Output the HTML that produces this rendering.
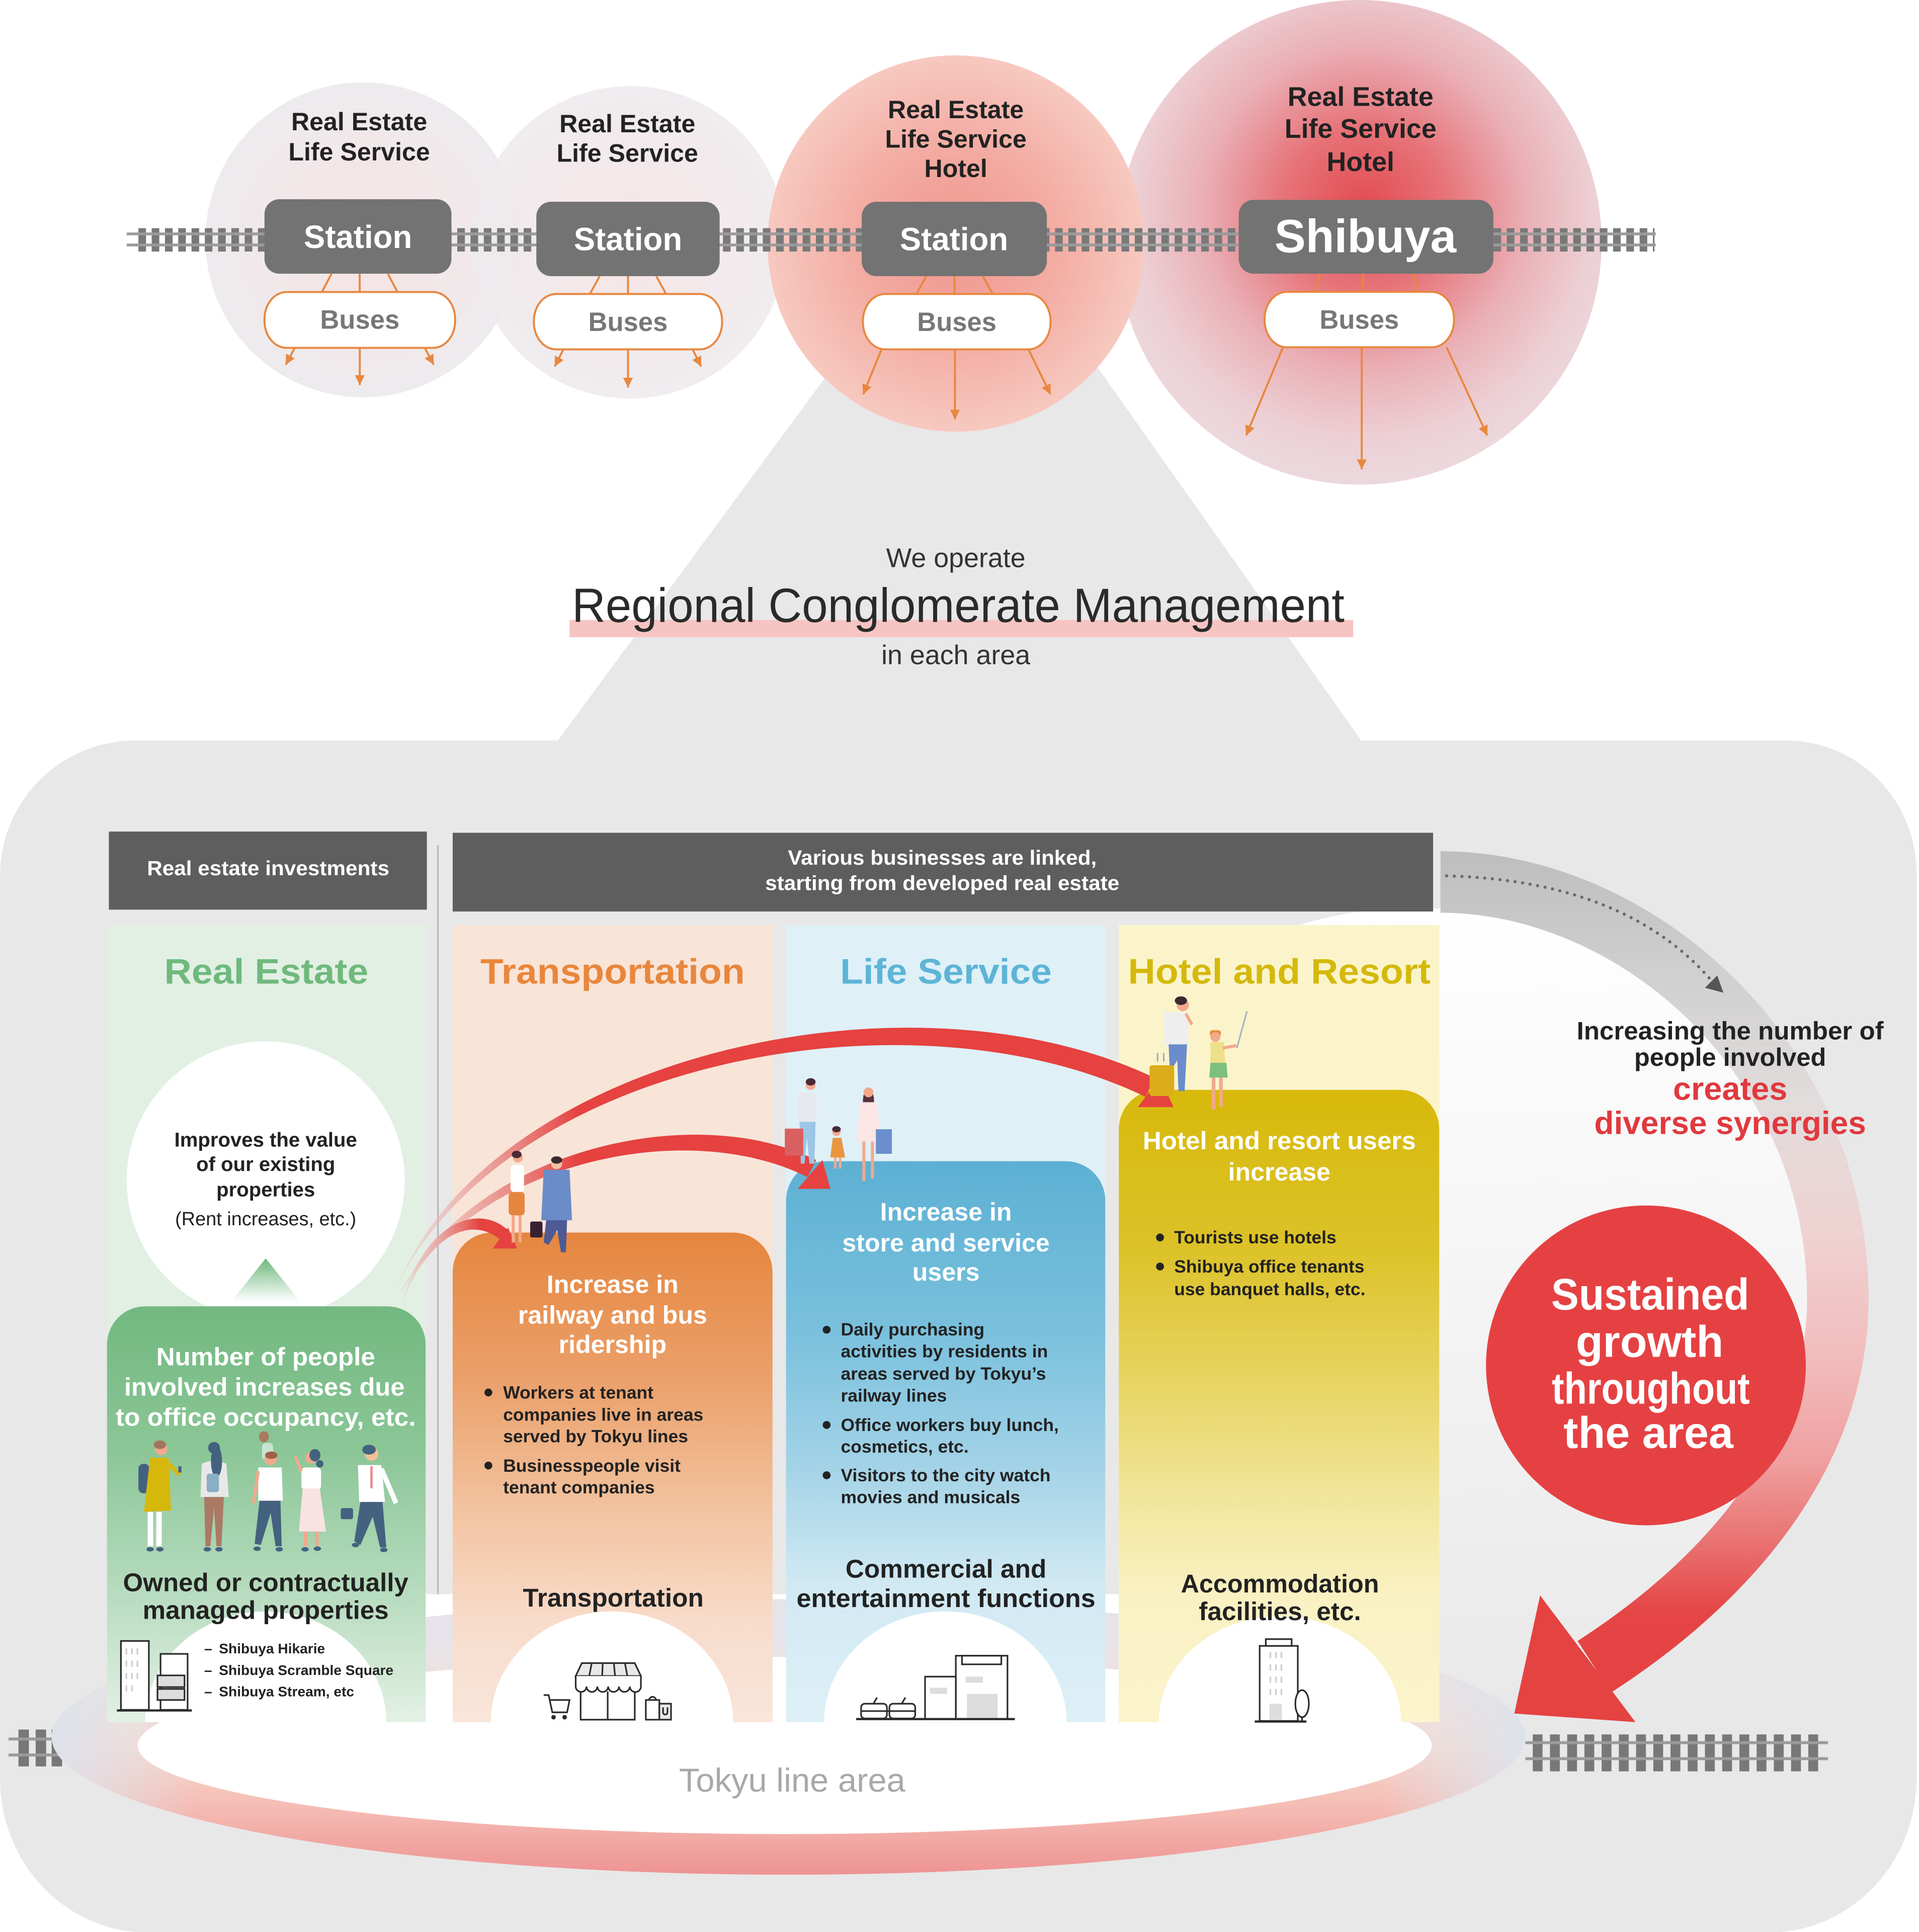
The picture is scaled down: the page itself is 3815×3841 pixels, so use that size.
<!DOCTYPE html>
<html><head><meta charset="utf-8"><style>html,body{margin:0;padding:0;background:#fff;}svg{display:block}</style></head>
<body>
<svg xmlns="http://www.w3.org/2000/svg" width="3815" height="3841" viewBox="0 0 1560 1570.6" preserveAspectRatio="none" font-family="'Liberation Sans', sans-serif">
<defs>
<radialGradient id="gC1" cx="0.5" cy="0.5" r="0.5"><stop offset="0" stop-color="#f6e3e3"/><stop offset="1" stop-color="#eeebee"/></radialGradient>
<radialGradient id="gC3" cx="0.5" cy="0.5" r="0.5"><stop offset="0" stop-color="#f0948d"/><stop offset="0.55" stop-color="#f3ada4"/><stop offset="1" stop-color="#f7c9c0"/></radialGradient>
<radialGradient id="gC4" cx="0.51" cy="0.43" r="0.56"><stop offset="0" stop-color="#e24a51"/><stop offset="0.3" stop-color="#e67378"/><stop offset="0.6" stop-color="#eab0b6"/><stop offset="0.85" stop-color="#ecd0d5"/><stop offset="1" stop-color="#ecd8dc"/></radialGradient>
<linearGradient id="gGreen" gradientUnits="userSpaceOnUse" x1="0" y1="1061" x2="0" y2="1400"><stop offset="0" stop-color="#72b87f"/><stop offset="0.35" stop-color="#8bc697"/><stop offset="0.7" stop-color="#b8dcbf"/><stop offset="1" stop-color="#e3f1e5"/></linearGradient>
<linearGradient id="gOrange" gradientUnits="userSpaceOnUse" x1="0" y1="1002" x2="0" y2="1400"><stop offset="0" stop-color="#e5863f"/><stop offset="0.3" stop-color="#eba06a"/><stop offset="0.6" stop-color="#f3c7a6"/><stop offset="0.8" stop-color="#f8dccb"/><stop offset="1" stop-color="#f9e6db"/></linearGradient>
<linearGradient id="gBlue" gradientUnits="userSpaceOnUse" x1="0" y1="944" x2="0" y2="1400"><stop offset="0" stop-color="#5cb0d3"/><stop offset="0.3" stop-color="#79c0dd"/><stop offset="0.55" stop-color="#a4d3e7"/><stop offset="0.75" stop-color="#d0e9f3"/><stop offset="1" stop-color="#dff0f7"/></linearGradient>
<linearGradient id="gYellow" gradientUnits="userSpaceOnUse" x1="0" y1="886" x2="0" y2="1400"><stop offset="0" stop-color="#d8b90b"/><stop offset="0.25" stop-color="#dcc228"/><stop offset="0.45" stop-color="#e6d35e"/><stop offset="0.65" stop-color="#f2e69d"/><stop offset="0.8" stop-color="#faf1c3"/><stop offset="1" stop-color="#fbf4cc"/></linearGradient>
<linearGradient id="gTri" gradientUnits="userSpaceOnUse" x1="0" y1="1023" x2="0" y2="1058"><stop offset="0" stop-color="#6db87b"/><stop offset="1" stop-color="#ffffff"/></linearGradient>
<linearGradient id="gRing" gradientUnits="userSpaceOnUse" x1="0" y1="1330" x2="0" y2="1524"><stop offset="0" stop-color="#e6e4ea"/><stop offset="0.45" stop-color="#f8dbd0"/><stop offset="0.75" stop-color="#f4b8b0"/><stop offset="1" stop-color="#ee9393"/></linearGradient>
<linearGradient id="gRingH" gradientUnits="userSpaceOnUse" x1="40" y1="0" x2="1242" y2="0"><stop offset="0" stop-color="#dde3ec" stop-opacity="1"/><stop offset="0.1" stop-color="#dde3ec" stop-opacity="0"/><stop offset="0.9" stop-color="#dde3ec" stop-opacity="0"/><stop offset="1" stop-color="#dde3ec" stop-opacity="1"/></linearGradient>
<linearGradient id="gDisc" gradientUnits="userSpaceOnUse" x1="0" y1="738" x2="0" y2="1382"><stop offset="0" stop-color="#ffffff"/><stop offset="0.5" stop-color="#f4f4f4"/><stop offset="1" stop-color="#e9e9e9"/></linearGradient>
<linearGradient id="gBand" gradientUnits="userSpaceOnUse" x1="0" y1="690" x2="0" y2="1380"><stop offset="0" stop-color="#bdbdbd"/><stop offset="0.15" stop-color="#d0d0d0"/><stop offset="0.3" stop-color="#e2dcdc"/><stop offset="0.45" stop-color="#efd2d2"/><stop offset="0.6" stop-color="#f2bcbc"/><stop offset="0.72" stop-color="#f0a0a0"/><stop offset="0.82" stop-color="#e97070"/><stop offset="0.9" stop-color="#e54545"/><stop offset="1" stop-color="#e54242"/></linearGradient>
<linearGradient id="gArc" gradientUnits="userSpaceOnUse" x1="318" y1="0" x2="470" y2="0"><stop offset="0" stop-color="#e8cfc8" stop-opacity="0.3"/><stop offset="0.45" stop-color="#e9a29c" stop-opacity="0.85"/><stop offset="1" stop-color="#e54240"/></linearGradient>
<linearGradient id="gArcA" gradientUnits="userSpaceOnUse" x1="324" y1="0" x2="390" y2="0"><stop offset="0" stop-color="#e8cfc8" stop-opacity="0.3"/><stop offset="0.5" stop-color="#e9a29c" stop-opacity="0.85"/><stop offset="1" stop-color="#e54240"/></linearGradient>
<pattern id="ties" x="112.5" y="0" width="10.8" height="1600" patternUnits="userSpaceOnUse"><rect x="0" y="0" width="6.2" height="1600" fill="#787878"/></pattern>
<pattern id="ties2" x="1246" y="0" width="14" height="1600" patternUnits="userSpaceOnUse"><rect x="0" y="0" width="8" height="1600" fill="#787878"/></pattern>
<marker id="ah" viewBox="0 0 10 10" refX="10" refY="5" markerWidth="8" markerHeight="9" markerUnits="userSpaceOnUse" orient="auto"><path d="M0 0 L10 5 L0 10 Z" fill="#e8873f"/></marker>
</defs>

<rect x="0" y="0" width="1560" height="1571" fill="#ffffff"/>
<!-- trapezoid -->
<polygon points="698,270 872,270 1108,604 452,604" fill="#e8e8e8"/>
<!-- main gray shape -->
<path d="M110 602 H1452 A106 108 0 0 1 1558 710 V1446 A120 125 0 0 1 1438 1571 H120 A120 125 0 0 1 0 1446 V712 A110 110 0 0 1 110 602 Z" fill="#e8e8e8"/>
<!-- disc -->
<circle cx="1150" cy="1060" r="322" fill="url(#gDisc)"/>
<rect x="80" y="752" width="1090" height="544" fill="#e8e8e8"/>
<!-- curved band -->
<path d="M1171 717 C1330 717 1494 860 1494 1056 C1494 1170 1420 1275 1296 1355" fill="none" stroke="url(#gBand)" stroke-width="50"/>
<!-- dotted arrow -->
<path d="M1176 712 Q1322 716 1392 798" fill="none" stroke="#6a6a6a" stroke-width="2.6" stroke-linecap="round" stroke-dasharray="0 6.2"/>
<polygon points="1401,807 1386,803 1396,793" fill="#555"/>

<!-- top circles -->
<circle cx="295" cy="195" r="128" fill="url(#gC1)"/>
<circle cx="512" cy="197" r="127" fill="url(#gC1)" fill-opacity="0.92"/>
<circle cx="1105" cy="197" r="197" fill="url(#gC4)"/>
<circle cx="777" cy="198" r="153" fill="url(#gC3)"/>

<!-- track -->
<rect x="112" y="185.5" width="1233" height="19" fill="url(#ties)"/>
<rect x="103" y="189" width="1243" height="2.3" fill="#9b9b9b"/>
<rect x="103" y="198" width="1243" height="2.3" fill="#9b9b9b"/>

<!-- station boxes -->
<rect x="215" y="162" width="152" height="60.5" rx="12" fill="#737373"/>
<rect x="436" y="164" width="149" height="60.5" rx="12" fill="#737373"/>
<rect x="700.5" y="164" width="150.5" height="60.5" rx="12" fill="#737373"/>
<rect x="1007" y="162.5" width="207" height="60" rx="12" fill="#737373"/>
<g font-weight="bold" fill="#fff" text-anchor="middle">
<text x="291" y="201.5" font-size="26">Station</text>
<text x="510.5" y="203.5" font-size="26">Station</text>
<text x="775.5" y="203.5" font-size="26">Station</text>
<text x="1110" y="205" font-size="38">Shibuya</text>
</g>

<!-- station-bus lines -->
<g stroke="#e8873f" stroke-width="1.6" fill="none">
<path d="M269.5 222.5 L261.7 237.4 M292.4 222.5 V237.4 M315.3 222.5 L323.1 237.4"/>
<path d="M487.5 224.5 L479.5 239 M510.5 224.5 V239 M533.5 224.5 L541.5 239"/>
<path d="M753 224.5 L745 239 M776 224.5 V239 M799 224.5 L807 239"/>
<path d="M1073 222.4 L1069 237.3 M1108 222.4 V237.3 M1149 222.4 L1153 237.3"/>
</g>
<!-- bus pills -->
<g fill="#fff" stroke="#e8873f" stroke-width="1.6">
<rect x="215" y="237.4" width="155" height="45.4" rx="18" ry="22"/>
<rect x="434" y="239" width="153" height="45" rx="18" ry="22"/>
<rect x="701.5" y="239" width="152.5" height="45" rx="18" ry="22"/>
<rect x="1028" y="237.3" width="154" height="45" rx="18" ry="22"/>
</g>
<g font-weight="bold" fill="#777" font-size="21.5" text-anchor="middle">
<text x="292.5" y="267.2">Buses</text>
<text x="510.5" y="269">Buses</text>
<text x="777.8" y="269">Buses</text>
<text x="1105" y="267.2">Buses</text>
</g>
<!-- bus arrows -->
<g stroke="#e8873f" stroke-width="1.6" fill="none" marker-end="url(#ah)">
<path d="M239.6 282.8 L232.3 296.5"/><path d="M292.5 282.8 V313"/><path d="M345.3 282.8 L352.6 296.5"/>
<path d="M458 284 L451 298"/><path d="M510.5 284 V315"/><path d="M563 284 L570 298"/>
<path d="M716.6 284 L701.7 320.6"/><path d="M776.3 284 V341"/><path d="M836 284 L854 320.6"/>
<path d="M1043 282.3 L1013 354"/><path d="M1107 282.3 V381.5"/><path d="M1176 282.3 L1209 354"/>
</g>

<!-- top labels -->
<g font-weight="bold" fill="#222" text-anchor="middle" font-size="20.5">
<text x="292" y="106">Real Estate</text><text x="292" y="130.5">Life Service</text>
<text x="510" y="107.5">Real Estate</text><text x="510" y="131.5">Life Service</text>
<text x="777" y="96">Real Estate</text><text x="777" y="120">Life Service</text><text x="777" y="144">Hotel</text>
<text x="1106" y="86" font-size="22">Real Estate</text><text x="1106" y="112" font-size="22">Life Service</text><text x="1106" y="139" font-size="22">Hotel</text>
</g>

<!-- middle text -->
<text x="777" y="461" font-size="22" fill="#333" text-anchor="middle">We operate</text>
<rect x="463" y="504" width="637" height="14" fill="#f6c4c2"/>
<text x="779" y="505.7" font-size="39" fill="#2a2a2a" text-anchor="middle" textLength="628" lengthAdjust="spacingAndGlyphs">Regional Conglomerate Management</text>
<text x="777" y="540" font-size="22" fill="#333" text-anchor="middle">in each area</text>

<!-- headers -->
<rect x="88.5" y="676" width="258.5" height="63.5" fill="#5e5e5e"/>
<rect x="368" y="677" width="797" height="64" fill="#5e5e5e"/>
<g font-weight="bold" fill="#fff" font-size="16.5" text-anchor="middle">
<text x="218" y="711.5" textLength="197" lengthAdjust="spacingAndGlyphs">Real estate investments</text>
<text x="766" y="703" textLength="251" lengthAdjust="spacingAndGlyphs">Various businesses are linked,</text>
<text x="766" y="723.5" textLength="288" lengthAdjust="spacingAndGlyphs">starting from developed real estate</text>
</g>
<line x1="356" y1="687" x2="356" y2="1296" stroke="#b8b8b8" stroke-width="1.3"/>

<!-- bottom white area -->
<rect x="87" y="1296" width="1083" height="104" fill="#fff"/>
<!-- bottom railways -->
<rect x="15" y="1406" width="8.5" height="30" fill="#787878"/>
<rect x="29" y="1406" width="8.5" height="30" fill="#787878"/>
<rect x="42" y="1406" width="8.5" height="30" fill="#787878"/>
<rect x="7" y="1412.5" width="45" height="2.4" fill="#9b9b9b"/>
<rect x="7" y="1425.5" width="45" height="2.4" fill="#9b9b9b"/>
<rect x="1246" y="1410" width="234" height="30" fill="url(#ties2)"/>
<rect x="1240" y="1415.5" width="246" height="2.4" fill="#9b9b9b"/>
<rect x="1240" y="1428.5" width="246" height="2.4" fill="#9b9b9b"/>
<!-- ring -->
<ellipse cx="641" cy="1412" rx="599" ry="112" fill="url(#gRing)"/>
<ellipse cx="641" cy="1412" rx="599" ry="112" fill="url(#gRingH)"/>
<ellipse cx="638" cy="1419" rx="526" ry="72" fill="#fff"/>

<!-- columns -->
<rect x="87" y="752" width="259" height="648" fill="#e2f0e4"/>
<rect x="368" y="752" width="260" height="648" fill="#f9e4d8"/>
<rect x="639" y="752" width="259.5" height="648" fill="#dff0f7"/>
<rect x="909.5" y="752" width="260.5" height="648" fill="#fbf4cb"/>

<!-- RE oval -->
<circle cx="216" cy="959.5" r="113" fill="#fff"/>
<polygon points="216,1023 188,1058 244,1058" fill="url(#gTri)"/>

<!-- colored boxes -->
<path d="M87 1400 V1093 A31 31 0 0 1 118 1062 H315 A31 31 0 0 1 346 1093 V1400 Z" fill="url(#gGreen)"/>
<path d="M368 1400 V1034 A32 32 0 0 1 400 1002 H596 A32 32 0 0 1 628 1034 V1400 Z" fill="url(#gOrange)"/>
<path d="M639 1400 V976 A32 32 0 0 1 671 944 H866.5 A32 32 0 0 1 898.5 976 V1400 Z" fill="url(#gBlue)"/>
<path d="M909.5 1400 V918 A32 32 0 0 1 941.5 886 H1138 A32 32 0 0 1 1170 918 V1400 Z" fill="url(#gYellow)"/>

<!-- arches -->
<g fill="#fff">
<path d="M118 1400 A98 90 0 0 1 314 1400 Z"/>
<path d="M399 1400 A98.5 90 0 0 1 596 1400 Z"/>
<path d="M670 1400 A98.5 90 0 0 1 867 1400 Z"/>
<path d="M942 1400 A98.5 86 0 0 1 1139 1400 Z"/>
</g>

<!-- icons -->
<g stroke="#2a2a2a" stroke-width="1.3" fill="#fff">
<rect x="98.3" y="1334" width="22.7" height="56"/>
<rect x="130.5" y="1344.5" width="22" height="45.5"/>
<rect x="128" y="1362" width="22" height="9.5" fill="#ddd"/>
<rect x="128" y="1373" width="22" height="9" fill="#ddd"/>
<line x1="95" y1="1390.5" x2="156" y2="1390.5" stroke-width="1.8"/>
<path d="M473 1352 H516 L521 1362.5 H468 Z" fill="#e8e8e8"/>
<path d="M481 1352 L479 1362.5 M490 1352 L489.5 1362.5 M499 1352 L500 1362.5 M508 1352 L510 1362.5" fill="none"/>
<path d="M468 1362.5 V1371 A4.4 4.4 0 0 0 476.8 1371 A4.4 4.4 0 0 0 485.6 1371 A4.4 4.4 0 0 0 494.4 1371 A4.4 4.4 0 0 0 503.2 1371 A4.4 4.4 0 0 0 512 1371 A4.5 4.5 0 0 0 521 1371 V1362.5"/>
<path d="M472 1375 V1398 H516 V1375 M494 1375 V1398" fill="none"/>
<path d="M442 1378 H446 L449 1392 H461 L463 1382 H447" fill="none"/>
<circle cx="450" cy="1396" r="1.2" fill="#2a2a2a"/><circle cx="459" cy="1396" r="1.2" fill="#2a2a2a"/>
<rect x="525" y="1382" width="11" height="16"/>
<path d="M527.5 1382 A3.2 4 0 0 1 533.5 1382" fill="none"/>
<rect x="536" y="1385" width="9.5" height="13" fill="#e8e8e8"/>
<path d="M539 1388 V1392 A1.8 1.8 0 0 0 542.6 1392 V1388" fill="none"/>
<rect x="777" y="1346" width="42" height="51.5"/>
<rect x="782" y="1346" width="32" height="7"/>
<rect x="785" y="1363" width="14" height="5" fill="#ddd" stroke="none"/>
<rect x="786" y="1377" width="25" height="20" fill="#ddd" stroke="none"/>
<rect x="752" y="1363" width="25" height="34.5"/>
<rect x="756" y="1372" width="14" height="5" fill="#ddd" stroke="none"/>
<rect x="700" y="1385" width="21" height="12" rx="3"/>
<rect x="723" y="1385" width="21" height="12" rx="3"/>
<path d="M700 1391 H744 M710 1385 L713 1380 M733 1385 L736 1380" fill="none"/>
<line x1="696" y1="1397.5" x2="825" y2="1397.5" stroke-width="1.8"/>
<rect x="1024" y="1338" width="31" height="61"/>
<rect x="1029" y="1332.5" width="21" height="5.5"/>
<rect x="1032" y="1385" width="10" height="13" fill="#ddd" stroke="none"/>
<ellipse cx="1058.5" cy="1385" rx="5.5" ry="11"/>
<line x1="1058.5" y1="1396" x2="1058.5" y2="1400"/>
<line x1="1020" y1="1399.5" x2="1062" y2="1399.5" stroke-width="1.8"/>
</g>
<g fill="#cfcfcf">
<rect x="102" y="1340" width="1.4" height="5"/><rect x="106.5" y="1340" width="1.4" height="5"/><rect x="111" y="1340" width="1.4" height="5"/>
<rect x="102" y="1350" width="1.4" height="5"/><rect x="106.5" y="1350" width="1.4" height="5"/><rect x="111" y="1350" width="1.4" height="5"/>
<rect x="102" y="1360" width="1.4" height="5"/><rect x="106.5" y="1360" width="1.4" height="5"/><rect x="111" y="1360" width="1.4" height="5"/>
<rect x="102" y="1370" width="1.4" height="5"/><rect x="106.5" y="1370" width="1.4" height="5"/>
<rect x="1032" y="1343" width="1.4" height="5"/><rect x="1036.5" y="1343" width="1.4" height="5"/><rect x="1041" y="1343" width="1.4" height="5"/>
<rect x="1032" y="1353" width="1.4" height="5"/><rect x="1036.5" y="1353" width="1.4" height="5"/><rect x="1041" y="1353" width="1.4" height="5"/>
<rect x="1032" y="1363" width="1.4" height="5"/><rect x="1036.5" y="1363" width="1.4" height="5"/><rect x="1041" y="1363" width="1.4" height="5"/>
<rect x="1032" y="1373" width="1.4" height="5"/><rect x="1036.5" y="1373" width="1.4" height="5"/><rect x="1041" y="1373" width="1.4" height="5"/>
</g>

<!-- red arcs -->
<path d="M320 1052 C394.5 857.7 740 781 938.7 876.3 L931.3 891.7 C740 799 405.5 862.3 320 1052 Z" fill="url(#gArc)"/>
<polygon points="943,876 954,900 925,900" fill="#e54240"/>
<path d="M322 1058 C375 938 560 892 663.5 943 L656.5 957 C560 908 385 942 322 1058 Z" fill="url(#gArc)"/>
<polygon points="668.6,943 675,966.5 648.5,966.5" fill="#e54240"/>
<path d="M326 1062 C342 997 387 976 413.3 1000.3 L406.7 1007.8 C383 988 348 1003 326 1062 Z" fill="url(#gArcA)"/>
<polygon points="413,998 420.4,1015 400.4,1015" fill="#e54240"/>

<!-- people: RE green box -->
<g>
<rect x="112.5" y="1190" width="9" height="24" rx="4" fill="#44627f"/>
<path d="M122 1185 L137 1185 L139 1228 L117 1229 Z" fill="#d6b80c"/>
<path d="M136 1189 L145 1198" stroke="#d6b80c" stroke-width="3.5" stroke-linecap="round"/>
<rect x="145" y="1192" width="2.5" height="5" fill="#44627f"/>
<circle cx="131" cy="1178" r="5" fill="#f2a98c"/>
<ellipse cx="130" cy="1174.5" rx="5" ry="3.5" fill="#a3755c"/>
<rect x="120" y="1229" width="4.5" height="28" fill="#fff"/><rect x="127" y="1229" width="4.5" height="28" fill="#fff"/>
<ellipse cx="122" cy="1259.5" rx="3" ry="1.8" fill="#44627f"/><ellipse cx="130" cy="1259.5" rx="3" ry="1.8" fill="#44627f"/>

<path d="M164 1190 Q174 1185 184 1190 L186 1217 L163 1217 Z" fill="#e8e8e8"/>
<ellipse cx="176" cy="1188" rx="4.5" ry="13" fill="#44627f"/>
<circle cx="174" cy="1177" r="4.8" fill="#44627f"/>
<rect x="168" y="1198" width="10" height="15" rx="2" fill="#8aaec4"/>
<path d="M166 1217 L182 1217 L180 1257 L176 1257 L174 1226 L171 1257 L167 1257 Z" fill="#ab7965"/>
<ellipse cx="168.5" cy="1259.5" rx="3" ry="1.8" fill="#44627f"/><ellipse cx="178" cy="1259.5" rx="3" ry="1.8" fill="#44627f"/>

<ellipse cx="214.5" cy="1168" rx="4" ry="4.5" fill="#a77a5e"/>
<rect x="213" y="1173" width="9" height="14" rx="3" fill="#c8e3cf"/>
<circle cx="220" cy="1186" r="5" fill="#f2a98c"/>
<ellipse cx="220.5" cy="1183" rx="5" ry="3" fill="#a0604a"/>
<path d="M210 1193 L229 1193 L230 1220 L210 1220 Z" fill="#fff"/>
<path d="M210 1196 L206 1222" stroke="#f2a98c" stroke-width="2.5"/>
<path d="M211 1220 L228 1220 L229 1257 L224 1257 L220 1230 L212 1256 L207 1255 Z" fill="#44627f"/>
<ellipse cx="209" cy="1259" rx="3" ry="1.8" fill="#44627f"/><ellipse cx="227" cy="1259.5" rx="3" ry="1.8" fill="#44627f"/>

<circle cx="253" cy="1185" r="4.8" fill="#f2a98c"/>
<ellipse cx="256" cy="1183" rx="4.5" ry="5" fill="#44627f"/><circle cx="260" cy="1190" r="3" fill="#44627f"/>
<rect x="245" y="1193" width="16" height="18" rx="3" fill="#fff"/>
<path d="M245 1196 L240 1184" stroke="#f2a98c" stroke-width="2.5"/>
<path d="M246 1210 L260 1210 L265 1245 L243 1245 Z" fill="#f9e2e2"/>
<rect x="247" y="1245" width="3" height="12" fill="#f2a98c"/><rect x="256" y="1245" width="3" height="12" fill="#f2a98c"/>
<ellipse cx="248" cy="1259.5" rx="3" ry="1.8" fill="#44627f"/><ellipse cx="258" cy="1259" rx="3" ry="1.8" fill="#44627f"/>

<circle cx="302" cy="1182" r="5.5" fill="#f4c196"/>
<ellipse cx="300" cy="1178.5" rx="5.5" ry="4" fill="#44627f"/>
<path d="M291 1191 L310 1191 L313 1221 L292 1221 Z" fill="#fff"/>
<path d="M301 1192 H303 V1210 H301 Z" fill="#e89090"/>
<path d="M310 1194 L322 1222" stroke="#fff" stroke-width="4"/>
<path d="M293 1221 L311 1221 L314 1258 L309 1258 L303 1233 L293 1256 L288 1253 Z" fill="#44627f"/>
<rect x="277" y="1226" width="10" height="9" rx="1.5" fill="#44627f"/>
<ellipse cx="289" cy="1256" rx="3" ry="1.8" fill="#44627f"/><ellipse cx="312" cy="1260" rx="3" ry="1.8" fill="#44627f"/>
</g>

<!-- people: transportation -->
<g>
<circle cx="421" cy="941" r="4" fill="#f2a98c"/><ellipse cx="420" cy="938.5" rx="4" ry="3" fill="#4a2a38"/>
<rect x="415" y="947" width="11" height="22" rx="3" fill="#fff"/>
<rect x="413.5" y="969" width="13" height="19" rx="3" fill="#e5863f"/>
<rect x="416" y="988" width="2.5" height="22" fill="#f2a98c"/><rect x="421.5" y="988" width="2.5" height="22" fill="#f2a98c"/>
<circle cx="452.5" cy="946" r="4.5" fill="#f2c3a0"/><ellipse cx="452.5" cy="943" rx="4.5" ry="3" fill="#3a2a30"/>
<path d="M442 951 L463 951 L465 992 L440 992 Z" fill="#6a8cc8"/>
<path d="M444 992 L461 992 L460 1018 L456 1018 L453 1000 L446 1012 L442 1010 Z" fill="#4d5a94"/>
<rect x="431" y="993" width="10" height="13" rx="1.5" fill="#3a2030"/>
</g>
<!-- people: life service -->
<g>
<circle cx="659" cy="882" r="4" fill="#f2a98c"/><ellipse cx="659" cy="879.5" rx="4" ry="3" fill="#4a2a38"/>
<rect x="649" y="888" width="15" height="24" rx="3" fill="#e6e8f0"/>
<path d="M650 912 L663 912 L662 946 L658 946 L656 925 L654 946 L651 946 Z" fill="#9cc6e6"/>
<rect x="638" y="917.5" width="15" height="22" fill="#d96060"/>
<circle cx="680" cy="920" r="3.5" fill="#f2a98c"/><ellipse cx="680" cy="918" rx="3.5" ry="2.5" fill="#4a2a38"/>
<path d="M677 925 L684 925 L687 941 L675 941 Z" fill="#e8963e"/>
<rect x="678" y="941" width="2" height="9" fill="#f2a98c"/><rect x="682" y="941" width="2" height="9" fill="#f2a98c"/>
<ellipse cx="706" cy="895" rx="4.5" ry="10" fill="#5a3040"/>
<circle cx="706" cy="888" r="4" fill="#f2a98c"/>
<path d="M699 896 L713 896 L716 928 L697 928 Z" fill="#fbe5e5"/>
<rect x="701" y="928" width="2.5" height="32" fill="#f2a98c"/><rect x="708" y="928" width="2.5" height="30" fill="#f2a98c"/>
<rect x="712" y="918" width="13" height="20" fill="#6b8fcc"/>
</g>
<!-- people: hotel -->
<g>
<circle cx="961.5" cy="817" r="5" fill="#f2a98c"/><ellipse cx="960" cy="813.5" rx="5" ry="3.5" fill="#3a2a30"/>
<path d="M946 823 L966 823 L966 850 L947 850 Z" fill="#eeeeee"/>
<path d="M964 824 L969 833" stroke="#f2a98c" stroke-width="2.5"/>
<path d="M950 849 L965 849 L963 887 L958 887 L957 862 L951 872 Z" fill="#6b8ccc"/>
<path d="M941 863 V856 M946 863 V856" stroke="#a0a8c0" stroke-width="1.2"/>
<rect x="934.5" y="866" width="20" height="25" rx="2" fill="#dcad1a"/>
<rect x="983.5" y="837.5" width="9" height="5" rx="2" fill="#e5913e"/>
<circle cx="988" cy="843" r="4" fill="#f2a98c"/>
<path d="M984 847 L995 847 L996 866 L984 866 Z" fill="#eee08a"/>
<path d="M984 864 L997 864 L998 876 L983 876 Z" fill="#7dbf7f"/>
<rect x="985" y="876" width="3" height="26" fill="#f2a98c"/><rect x="991" y="876" width="3" height="24" fill="#f2a98c"/>
<path d="M994 852 L1005 850" stroke="#f2a98c" stroke-width="2.5"/>
<path d="M1005.5 852 L1013.7 822" stroke="#a8b4c0" stroke-width="1.3"/>
</g>

<!-- column titles -->
<g font-weight="bold" font-size="29" text-anchor="middle">
<text x="216.5" y="799.7" fill="#6fb97d" textLength="166" lengthAdjust="spacingAndGlyphs">Real Estate</text>
<text x="498" y="799.7" fill="#e8873c" textLength="215" lengthAdjust="spacingAndGlyphs">Transportation</text>
<text x="769" y="799.7" fill="#5db4d6" textLength="172" lengthAdjust="spacingAndGlyphs">Life Service</text>
<text x="1040" y="799.7" fill="#d4b90c" textLength="246" lengthAdjust="spacingAndGlyphs">Hotel and Resort</text>
</g>

<!-- RE oval text -->
<g fill="#222" text-anchor="middle">
<text x="216" y="932" font-size="16.4" font-weight="bold">Improves the value</text>
<text x="216" y="952" font-size="16.4" font-weight="bold">of our existing</text>
<text x="216" y="972.5" font-size="16.4" font-weight="bold">properties</text>
<text x="216" y="996" font-size="15.5">(Rent increases, etc.)</text>
</g>

<!-- box texts white -->
<g fill="#fff" font-weight="bold" font-size="20.5" text-anchor="middle">
<text x="216" y="1110" textLength="178" lengthAdjust="spacingAndGlyphs">Number of people</text>
<text x="215" y="1134.6" textLength="228" lengthAdjust="spacingAndGlyphs">involved increases due</text>
<text x="216" y="1159" textLength="244" lengthAdjust="spacingAndGlyphs">to office occupancy, etc.</text>
<text x="498" y="1051">Increase in</text>
<text x="498" y="1076">railway and bus</text>
<text x="498" y="1100">ridership</text>
<text x="769" y="992.3">Increase in</text>
<text x="769" y="1017.4">store and service</text>
<text x="769" y="1041">users</text>
<text x="1040" y="934.3" textLength="222" lengthAdjust="spacingAndGlyphs">Hotel and resort users</text>
<text x="1040" y="959.8">increase</text>
</g>

<!-- bullets -->
<g fill="#222" font-weight="bold" font-size="14.5">
<circle cx="397" cy="1132" r="3.2"/><circle cx="397" cy="1191.4" r="3.2"/>
<text x="409" y="1137">Workers at tenant</text>
<text x="409" y="1155">companies live in areas</text>
<text x="409" y="1172.6">served by Tokyu lines</text>
<text x="409" y="1196.4">Businesspeople visit</text>
<text x="409" y="1214">tenant companies</text>
<circle cx="672" cy="1081" r="3.2"/><circle cx="672" cy="1158.4" r="3.2"/><circle cx="672" cy="1199.3" r="3.2"/>
<text x="683.5" y="1085.7">Daily purchasing</text>
<text x="683.5" y="1103.4">activities by residents in</text>
<text x="683.5" y="1121.7">areas served by Tokyu’s</text>
<text x="683.5" y="1139.5">railway lines</text>
<text x="683.5" y="1163.4">Office workers buy lunch,</text>
<text x="683.5" y="1181">cosmetics, etc.</text>
<text x="683.5" y="1204.3">Visitors to the city watch</text>
<text x="683.5" y="1222">movies and musicals</text>
<circle cx="943" cy="1006" r="3.2"/><circle cx="943" cy="1029.6" r="3.2"/>
<text x="954.5" y="1010.9">Tourists use hotels</text>
<text x="954.5" y="1034.6">Shibuya office tenants</text>
<text x="954.5" y="1053">use banquet halls, etc.</text>
</g>

<!-- bottom labels -->
<g fill="#222" font-weight="bold" font-size="21" text-anchor="middle">
<text x="216" y="1293.6" textLength="232" lengthAdjust="spacingAndGlyphs">Owned or contractually</text>
<text x="216" y="1316" textLength="200" lengthAdjust="spacingAndGlyphs">managed properties</text>
<text x="498.5" y="1306" textLength="147" lengthAdjust="spacingAndGlyphs">Transportation</text>
<text x="769" y="1282.6">Commercial and</text>
<text x="769" y="1306.5" textLength="243" lengthAdjust="spacingAndGlyphs">entertainment functions</text>
<text x="1040.5" y="1294.6" textLength="161" lengthAdjust="spacingAndGlyphs">Accommodation</text>
<text x="1040.5" y="1317">facilities, etc.</text>
</g>
<g fill="#222" font-weight="bold" font-size="11.5">
<text x="166" y="1344">–</text><text x="178" y="1344">Shibuya Hikarie</text>
<text x="166" y="1361.7">–</text><text x="178" y="1361.7">Shibuya Scramble Square</text>
<text x="166" y="1379">–</text><text x="178" y="1379">Shibuya Stream, etc</text>
</g>

<!-- right side texts -->
<g text-anchor="middle" font-weight="bold">
<text x="1406.5" y="845" font-size="20.5" fill="#222" textLength="249.5" lengthAdjust="spacingAndGlyphs">Increasing the number of</text>
<text x="1406.5" y="866.5" font-size="20.5" fill="#222" textLength="156" lengthAdjust="spacingAndGlyphs">people involved</text>
<text x="1406.5" y="894" font-size="26" fill="#e0393e" textLength="93" lengthAdjust="spacingAndGlyphs">creates</text>
<text x="1406.5" y="921.8" font-size="26" fill="#e0393e" textLength="221" lengthAdjust="spacingAndGlyphs">diverse synergies</text>
</g>
<circle cx="1338" cy="1110" r="130" fill="#e54143"/>
<g text-anchor="middle" font-weight="bold" fill="#fff" font-size="36">
<text x="1341.5" y="1064.6" textLength="161" lengthAdjust="spacingAndGlyphs">Sustained</text>
<text x="1341" y="1103">growth</text>
<text x="1342" y="1141" textLength="161" lengthAdjust="spacingAndGlyphs">throughout</text>
<text x="1340" y="1177">the area</text>
</g>

<!-- band arrowhead -->
<polygon points="1252,1297 1231,1393 1329.5,1400" fill="#e54242"/>

<text x="644" y="1456.6" font-size="27" fill="#a8a8a8" text-anchor="middle" textLength="184" lengthAdjust="spacingAndGlyphs">Tokyu line area</text>
</svg>
</body></html>
